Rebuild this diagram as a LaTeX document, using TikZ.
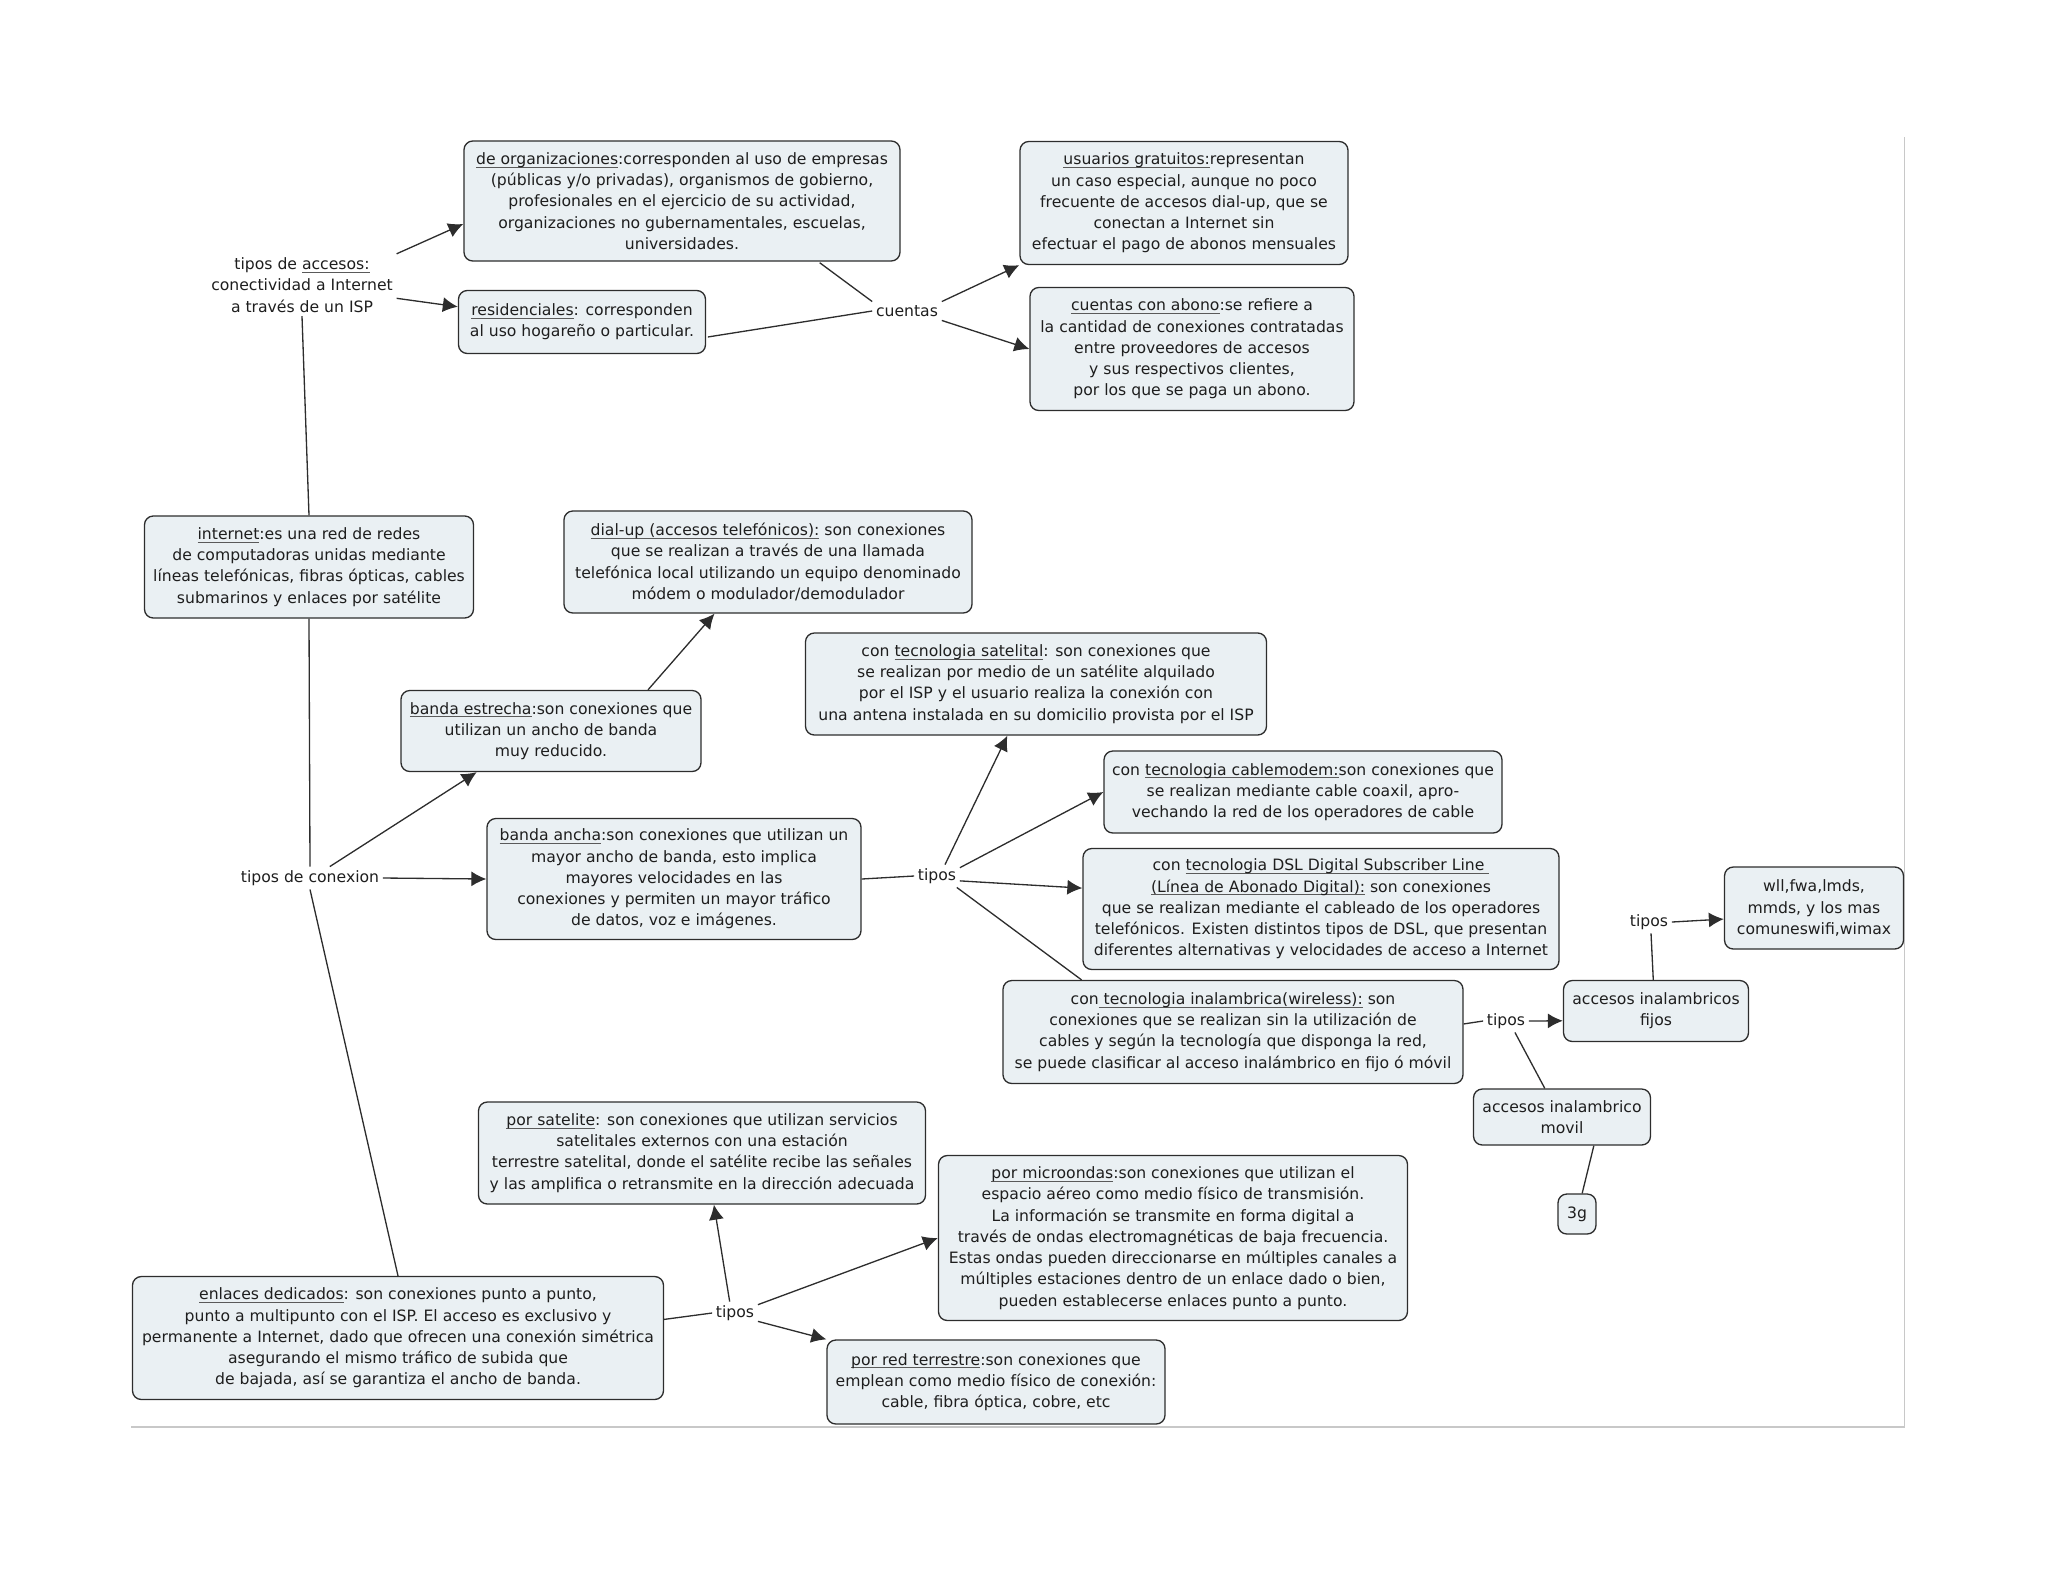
\documentclass[tikz,border=0pt]{standalone}
\usepackage{fontspec}
\setmainfont{DejaVu Sans}
\usetikzlibrary{arrows.meta}
\definecolor{boxfill}{RGB}{234,240,243}
\definecolor{boxline}{RGB}{45,45,45}
\definecolor{txt}{RGB}{30,30,30}
\definecolor{frame}{RGB}{200,200,200}
\definecolor{ulgray}{RGB}{90,90,90}
\newcommand{\lnk}[1]{\setbox0\hbox{#1}\rlap{\textcolor{ulgray}{\rule[-1.7pt]{\wd0}{0.45pt}}}\box0\relax}
\begin{document}
\begin{tikzpicture}[x=0.2mm,y=-0.2mm,
  every node/.style={font=\fontsize{8.9}{12.1}\selectfont,text=txt,align=center},
  box/.style={draw=boxline,fill=boxfill,line width=0.75pt,rounded corners=5pt,inner sep=2pt},
  bsize/.style 2 args={minimum width=#1*0.2mm,minimum height=#2*0.2mm},
  phrase/.style={inner sep=2pt},
  con/.style={draw=boxline,line width=0.75pt},
  arr/.style={con,-{Latex[length=3mm,width=3mm]}}]
\useasboundingbox (0,0) rectangle (2048,1582);
% page frame
\draw[frame,line width=0.6pt] (1904,137) -- (1904,1427) -- (131,1427);
% accesos
\node[phrase] (tacc) at (302,285) {tipos de \lnk{accesos:}\\conectividad a Internet\\a través de un ISP};
\node[box,bsize={436}{120}] (org) at (682,201) {\lnk{de organizaciones}:corresponden al uso de empresas\\(públicas y/o privadas), organismos de gobierno,\\profesionales en el ejercicio de su actividad,\\organizaciones no gubernamentales, escuelas,\\universidades.};
\node[box,bsize={247}{63}] (res) at (582,322) {\lnk{residenciales}: corresponden\\al uso hogareño o particular.};
\node[phrase] (cuentas) at (907,311) {cuentas};
\node[box,bsize={328}{123}] (usu) at (1184,203) {\lnk{usuarios gratuitos:}representan\\un caso especial, aunque no poco\\frecuente de accesos dial-up, que se\\conectan a Internet sin\\efectuar el pago de abonos mensuales};
\node[box,bsize={324}{123}] (abono) at (1192,349) {\lnk{cuentas con abono}:se refiere a\\la cantidad de conexiones contratadas\\entre proveedores de accesos\\y sus respectivos clientes,\\por los que se paga un abono.};
% internet
\node[box,bsize={329}{102}] (internet) at (309,567) {\lnk{internet}:es una red de redes\\de computadoras unidas mediante\\líneas telefónicas, fibras ópticas, cables\\submarinos y enlaces por satélite};
\node[box,bsize={408}{102}] (dialup) at (768,562) {\lnk{dial-up (accesos telefónicos):} son conexiones\\que se realizan a través de una llamada\\telefónica local utilizando un equipo denominado\\módem o modulador/demodulador};
\node[box,bsize={300}{81}] (estrecha) at (551,731) {\lnk{banda estrecha}:son conexiones que\\utilizan un ancho de banda\\muy reducido.};
\node[phrase] (tcon) at (310,878) {tipos de conexion};
\node[box,bsize={374}{121}] (ancha) at (674,879) {\lnk{banda ancha}:son conexiones que utilizan un\\mayor ancho de banda, esto implica\\mayores velocidades en las\\conexiones y permiten un mayor tráfico\\de datos, voz e imágenes.};
\node[phrase] (tipa) at (937,876) {tipos};
% banda ancha
\node[box,bsize={461}{102}] (satelital) at (1036,684) {con \lnk{tecnologia satelital}: son conexiones que\\se realizan por medio de un satélite alquilado\\por el ISP y el usuario realiza la conexión con\\una antena instalada en su domicilio provista por el ISP};
\node[box,bsize={398}{82}] (cable) at (1303,792) {con \lnk{tecnologia cablemodem:}son conexiones que\\se realizan mediante cable coaxil, apro-\\vechando la red de los operadores de cable};
\node[box,bsize={476}{121}] (dsl) at (1321,909) {con \lnk{tecnologia DSL Digital Subscriber Line }\\\lnk{(Línea de Abonado Digital):} son conexiones\\que se realizan mediante el cableado de los operadores\\telefónicos. Existen distintos tipos de DSL, que presentan\\diferentes alternativas y velocidades de acceso a Internet};
\node[box,bsize={460}{103}] (inal) at (1233,1032) {con\lnk{ tecnologia inalambrica(wireless):} son\\conexiones que se realizan sin la utilización de\\cables y según la tecnología que disponga la red,\\se puede clasificar al acceso inalámbrico en fijo ó móvil};
\node[phrase] (tipc) at (1506,1021) {tipos};
\node[box,bsize={185}{61}] (fijos) at (1656,1011) {accesos inalambricos\\fijos};
\node[phrase] (tipd) at (1649,922) {tipos};
\node[box,bsize={179}{82}] (wll) at (1814,908) {wll,fwa,lmds,\\mmds, y los mas\\comuneswifi,wimax};
\node[box,bsize={177}{56}] (movil) at (1562,1117) {accesos inalambrico\\movil};
\node[box,bsize={38}{40}] (gtres) at (1577,1214) {3g};
% enlaces dedicados
\node[box,bsize={531}{123}] (enlaces) at (398,1338) {\lnk{enlaces dedicados}: son conexiones punto a punto,\\punto a multipunto con el ISP. El acceso es exclusivo y\\permanente a Internet, dado que ofrecen una conexión simétrica\\asegurando el mismo tráfico de subida que\\de bajada, así se garantiza el ancho de banda.};
\node[phrase] (tipb) at (735,1313) {tipos};
\node[box,bsize={447}{102}] (psat) at (702,1153) {\lnk{por satelite}: son conexiones que utilizan servicios\\satelitales externos con una estación\\terrestre satelital, donde el satélite recibe las señales\\y las amplifica o retransmite en la dirección adecuada};
\node[box,bsize={469}{165}] (micro) at (1173,1238) {\lnk{por microondas}:son conexiones que utilizan el\\espacio aéreo como medio físico de transmisión.\\La información se transmite en forma digital a\\través de ondas electromagnéticas de baja frecuencia.\\Estas ondas pueden direccionarse en múltiples canales a\\múltiples estaciones dentro de un enlace dado o bien,\\pueden establecerse enlaces punto a punto.};
\node[box,bsize={338}{84}] (terr) at (996,1382) {\lnk{por red terrestre}:son conexiones que\\emplean como medio físico de conexión:\\cable, fibra óptica, cobre, etc};
% connectors
\draw[arr] (tacc.north east) -- (org.186);
\draw[arr] (tacc.-8) -- (res.173);
\draw[con] (tacc.south) -- (internet.north);
\draw[con,shorten <=1pt] (org.-24) -- (cuentas.north west);
\draw[con,shorten <=1pt] (res.-7) -- (cuentas.west);
\draw[arr] (cuentas.north east) -- (usu.south west);
\draw[arr] (cuentas.south east) -- (abono.west);
\draw[con] (internet.south) -- (tcon.north);
\draw[arr] (tcon.30) -- (estrecha.209);
\draw[arr] (tcon.east) -- (ancha.west);
\draw[con] (tcon.south) -- (enlaces.north);
\draw[arr] (estrecha.23) -- (dialup.224);
\draw[con] (ancha.east) -- (tipa.west);
\draw[arr] (tipa.55) -- (satelital.241);
\draw[arr] (tipa.20) -- (cable.west);
\draw[arr] (tipa.-12) -- (dsl.175);
\draw[con] (tipa.-30) -- (inal.161);
\draw[con] (inal.2) -- (tipc.west);
\draw[arr] (tipc.east) -- (fijos.186);
\draw[con] (tipc.-52) -- (movil.121);
\draw[con] (fijos.95) -- (tipd.-80);
\draw[arr] (tipd.east) -- (wll.187);
\draw[con] (movil.-42) -- (gtres.76);
\draw[con] (enlaces.4) -- (tipb.west);
\draw[arr] (tipb.115) -- (psat.-77);
\draw[arr] (tipb.20) -- (micro.west);
\draw[arr] (tipb.-20) -- (terr.north west);
\end{tikzpicture}
\end{document}
